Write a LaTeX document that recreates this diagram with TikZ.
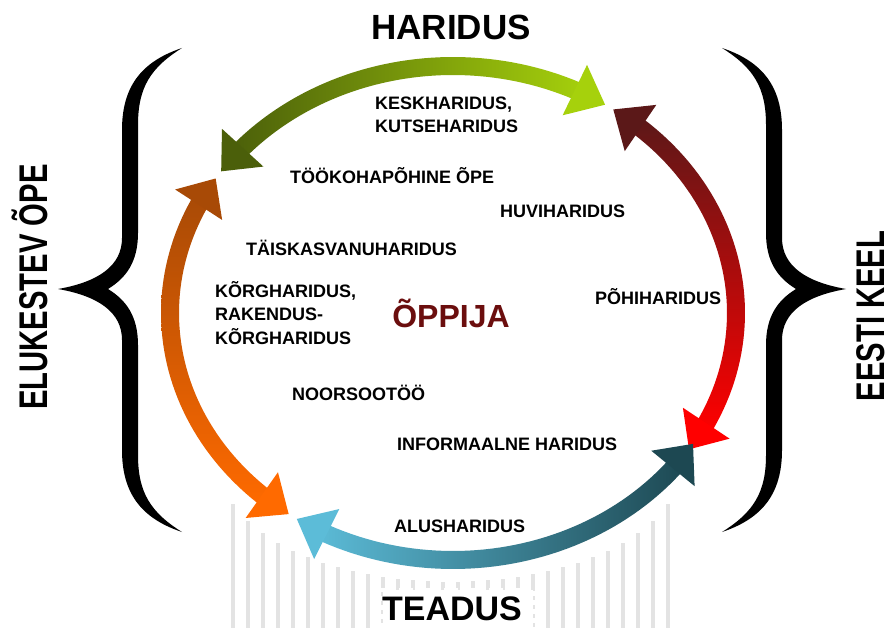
\documentclass[tikz,border=0pt]{standalone}
\usepackage{fontspec}
\setmainfont{Liberation Sans}
\newfontfamily\narrowfont{Liberation Sans}[FakeStretch=0.73]
\usetikzlibrary{calc,positioning}

\definecolor{grnA}{HTML}{4B5F0A}
\definecolor{grnB}{HTML}{A6D10C}
\definecolor{redA}{HTML}{5B1818}
\definecolor{redB}{HTML}{FF0000}
\definecolor{bluA}{HTML}{5CBCD8}
\definecolor{bluB}{HTML}{1D4852}
\definecolor{orgA}{HTML}{A84A06}
\definecolor{orgB}{HTML}{FF6A00}
\definecolor{learner}{HTML}{6B0E0E}

% ring of the arrows (pixel units)
\newcommand\rcx{453}
\newcommand\rcy{313}
\newcommand\rrx{283}
\newcommand\rry{247}

\begin{document}
\begin{tikzpicture}[x=1pt,y=-1pt,
    lbl/.style={font=\fontsize{18}{23.5}\selectfont\bfseries, inner sep=0pt, anchor=base west, align=left},
    title/.style={font=\fontsize{35}{40}\selectfont\bfseries, inner sep=0pt, anchor=base},
    side/.style={font=\narrowfont\fontsize{40}{44}\selectfont\bfseries, inner sep=0pt, anchor=base, rotate=90},
    bar/.style={fill=black!11},
    shG/.style={left color=grnA, right color=grnB},
    shR/.style={top color=redA, bottom color=redB},
    shB/.style={left color=bluA, right color=bluB},
    shO/.style={top color=orgA, bottom color=orgB},
    bracket/.pic={
        \fill[black] (182,48) .. controls (140,62) and (122,88) .. (122,130) -- (122,238)
            .. controls (122,266) and (98,282) .. (58,289)
            .. controls (98,296) and (122,312) .. (122,340) -- (122,450)
            .. controls (122,492) and (140,518) .. (182,532)
            .. controls (150,512) and (138,492) .. (138,455) -- (138,345)
            .. controls (138,316) and (126,300) .. (108,289)
            .. controls (126,278) and (138,262) .. (138,233) -- (138,125)
            .. controls (138,88) and (150,68) .. (182,48) -- cycle;
    }]
    \fill[white] (0,0) rectangle (891,628);
    \useasboundingbox (0,0) rectangle (891,628);

    % bars under the ring
    \foreach \i in {0,...,29} {
        \pgfmathsetmacro\bx{233+15*\i}
        \pgfmathsetmacro\bt{466+116*sqrt(max(0,1-((\bx-450.5)/230)^2))}
        \fill[bar] (\bx-2.2,\bt) rectangle (\bx+2.2,628);
    }
    \fill[white] (383,590) rectangle (533,628);
    \draw[white, line width=4pt, dash pattern=on 5pt off 4pt] (383,628) -- (383,590) -- (533,590) -- (533,628);

    % the four arrows
    \foreach \nm/\a/\b/\sh/\cs/\ce in {grn/215/302.5/shG/grnA/grnB, red/304.5/393.5/shR/redA/redB,
                                         blu/32/123.5/shB/bluB/bluA, org/125.5/213/shO/orgB/orgA} {
        \pgfmathsetmacro\da{\a+5}
        \pgfmathsetmacro\db{\b-5}
        \shade[\sh] plot[domain=\da:\db, samples=50] ({\rcx+(\rrx+9)*cos(\x)},{\rcy+(\rry+9)*sin(\x)})
            -- plot[domain=\db:\da, samples=50] ({\rcx+(\rrx-9)*cos(\x)},{\rcy+(\rry-9)*sin(\x)}) -- cycle;
        \coordinate (\nm-t1) at ({\rcx+\rrx*cos(\a)},{\rcy+\rry*sin(\a)});
        \coordinate (\nm-b1) at ({\rcx+\rrx*cos(\a+7)},{\rcy+\rry*sin(\a+7)});
        \coordinate (\nm-t2) at ({\rcx+\rrx*cos(\b)},{\rcy+\rry*sin(\b)});
        \coordinate (\nm-b2) at ({\rcx+\rrx*cos(\b-7)},{\rcy+\rry*sin(\b-7)});
        \fill[\cs] (\nm-t1) -- ($(\nm-b1)!28pt!90:(\nm-t1)$) -- ($(\nm-b1)!28pt!-90:(\nm-t1)$) -- cycle;
        \fill[\ce] (\nm-t2) -- ($(\nm-b2)!28pt!90:(\nm-t2)$) -- ($(\nm-b2)!28pt!-90:(\nm-t2)$) -- cycle;
    }

    % titles
    \node[title] (haridus) at (451,40) {HARIDUS};
    \node[title, font=\fontsize{34}{40}\selectfont\bfseries] (teadus) at (452,620) {TEADUS};
    \node[title, font=\fontsize{32}{36}\selectfont\bfseries, text=learner] (oppija) at (451,327) {ÕPPIJA};
    \node[side] (elukestev) at (47,287) {ELUKESTEV ÕPE};
    \node[side] (eesti) at (884,316) {EESTI KEEL};

    % labels inside the ring
    \node[lbl, anchor=west] (kesk) at (375,115) {KESKHARIDUS,\\KUTSEHARIDUS};
    \node[lbl] (tookoha) at (290,184) {TÖÖKOHAPÕHINE ÕPE};
    \node[lbl] (huvi) at (500,218) {HUVIHARIDUS};
    \node[lbl] (taiskasv) at (246,255) {TÄISKASVANUHARIDUS};
    \node[lbl, anchor=west] (korg) at (215,313) {KÕRGHARIDUS,\\RAKENDUS-\\KÕRGHARIDUS};
    \node[lbl] (pohi) at (595,304) {PÕHIHARIDUS};
    \node[lbl] (noorsoo) at (292,400) {NOORSOOTÖÖ};
    \node[lbl] (informaal) at (397,450) {INFORMAALNE HARIDUS};
    \node[lbl] (alus) at (394,532) {ALUSHARIDUS};

    % braces
    \pic at (0,0) {bracket};
    \pic[xscale=-1] at (904,0) {bracket};
\end{tikzpicture}
\end{document}
